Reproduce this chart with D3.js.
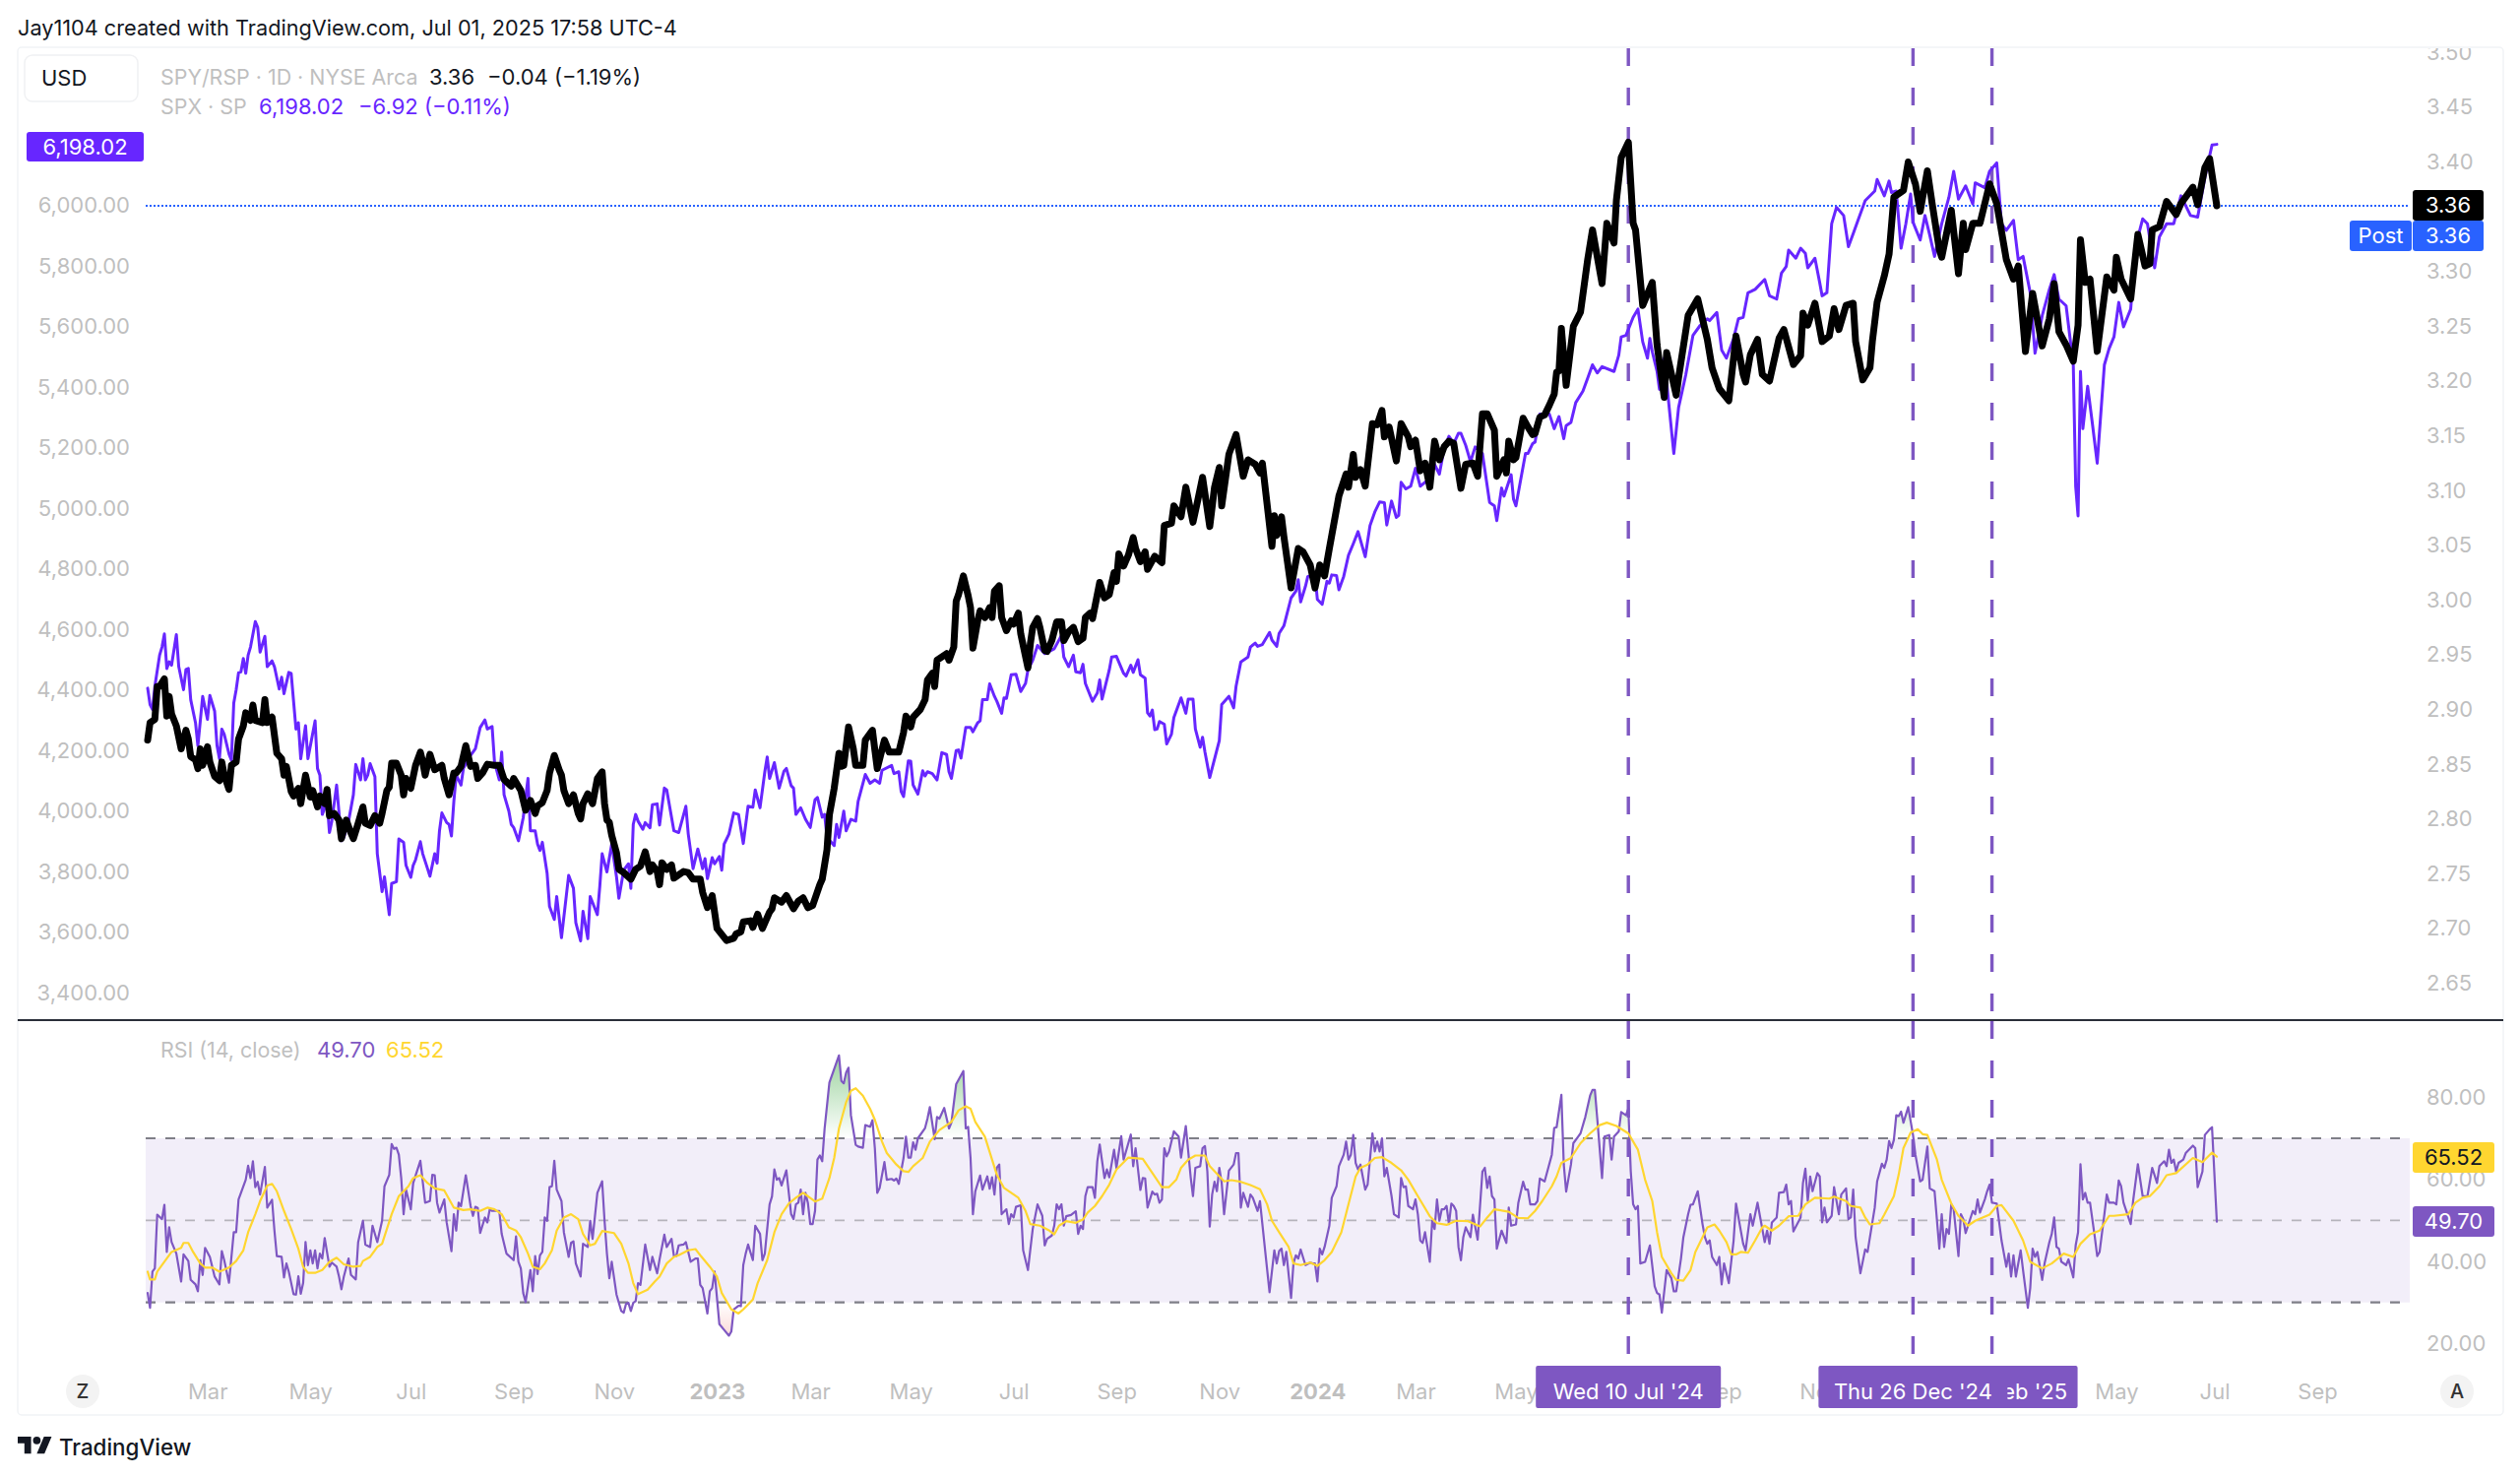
<!DOCTYPE html>
<html>
<head lang="en">
    <meta charset="UTF-8">
    <title>SPY/RSP vs SPX</title>
    <script src="https://d3js.org/d3.v7.min.js" charset="utf-8"></script>
    <style>
        html, body { margin: 0; background: #fff; }
        svg { display: block; font-family: Inter, "Noto Sans", sans-serif; }
        .axis text { fill: #bfbfbf; font-size: 22px; font-family: Inter, "Noto Sans", sans-serif; }
        .axis .domain, .axis line { display: none; }
    </style>
</head>
<body>
<svg id="chart" width="2560" height="1501"></svg>
<script>
// all series are [session, value], session = trading days since late Jan 2022
var spx = [[0,4402],[1,4348],[2,4332],[3,4408],[5,4511],[6,4538],[7,4581],[8,4467],[9,4489],[10,4478],[12,4579],[13,4473],[15,4397],[16,4464],[17,4467],[18,4364],[20,4288],[21,4212],[23,4375],[25,4299],[26,4378],[28,4326],[29,4212],[30,4169],[31,4267],[32,4250],[34,4185],[35,4164],[36,4353],[37,4397],[38,4453],[39,4456],[40,4500],[41,4451],[42,4511],[43,4538],[45,4622],[46,4603],[47,4521],[49,4573],[50,4473],[52,4492],[53,4473],[55,4399],[56,4438],[57,4384],[59,4454],[60,4451],[62,4267],[63,4288],[64,4169],[66,4278],[67,4169],[70,4294],[71,4137],[72,4115],[73,3985],[75,4028],[76,3925],[77,3963],[79,4082],[81,3898],[82,3909],[84,3963],[86,4050],[87,4150],[89,4099],[90,4169],[91,4099],[92,4115],[93,4153],[95,4110],[96,3855],[98,3730],[99,3779],[101,3654],[102,3757],[104,3763],[105,3904],[107,3893],[108,3817],[110,3777],[111,3817],[112,3835],[114,3895],[115,3855],[117,3806],[118,3781],[120,3855],[121,3824],[122,3931],[123,3990],[125,3958],[126,3952],[127,3914],[128,4028],[129,4115],[131,4082],[132,4137],[135,4180],[137,4202],[139,4272],[141,4297],[142,4267],[144,4275],[145,4158],[147,4099],[148,4191],[149,4050],[151,3996],[152,3952],[153,3942],[155,3898],[157,3974],[159,4104],[160,3931],[162,3931],[163,3887],[164,3866],[165,3893],[167,3790],[168,3681],[170,3638],[171,3714],[173,3578],[176,3784],[178,3741],[179,3627],[181,3567],[182,3665],[184,3575],[185,3714],[188,3654],[189,3746],[190,3855],[192,3795],[194,3887],[196,3779],[197,3708],[199,3801],[201,3822],[202,3741],[203,3952],[204,3985],[205,3963],[207,3936],[208,3958],[210,3941],[211,4017],[213,4020],[214,3950],[216,4072],[217,4066],[220,3931],[222,3925],[225,4012],[226,3920],[228,3806],[230,3871],[232,3806],[233,3839],[234,3773],[236,3842],[237,3822],[239,3846],[240,3801],[241,3887],[243,3920],[245,3990],[247,3985],[249,3889],[251,4012],[253,4009],[254,4066],[256,4007],[258,4126],[259,4175],[260,4104],[262,4156],[264,4072],[266,4128],[267,4137],[269,4080],[270,4072],[271,3985],[273,4007],[275,3969],[277,3942],[279,4034],[280,4041],[282,3976],[283,3985],[284,3909],
[287,3882],[288,3952],[289,3909],[291,3996],[292,3931],[294,3969],[296,3963],[297,4028],[300,4117],[302,4088],[304,4099],[306,4088],[307,4131],[311,4147],[312,4120],[314,4126],[315,4061],[316,4044],[318,4162],[319,4161],[320,4082],[322,4052],[324,4129],[325,4112],[326,4126],[328,4120],[330,4099],[332,4189],[334,4183],[335,4126],[336,4104],[338,4196],[339,4198],[340,4171],[342,4272],[344,4272],[345,4258],[347,4288],[348,4294],[349,4364],[351,4364],[352,4416],[354,4375],[355,4359],[357,4319],[358,4370],[359,4368],[361,4446],[363,4448],[365,4391],[367,4418],[368,4462],[370,4494],[372,4543],[375,4516],[379,4532],[382,4576],[383,4505],[385,4473],[387,4511],[388,4456],[390,4453],[391,4481],[392,4418],[395,4359],[397,4386],[398,4429],[399,4366],[402,4462],[403,4505],[405,4507],[408,4451],[409,4442],[411,4478],[412,4454],[414,4496],[415,4446],[417,4435],[418,4321],[419,4310],[420,4330],[421,4265],[422,4267],[423,4292],[425,4283],[426,4218],[428,4250],[429,4305],[432,4370],[434,4319],[435,4366],[437,4366],[438,4267],[440,4207],[441,4240],[442,4191],[444,4107],[448,4229],[449,4348],[452,4375],[454,4337],[455,4408],[457,4489],[460,4505],[461,4538],[463,4551],[464,4540],[466,4546],[469,4586],[470,4561],[472,4540],[473,4583],[475,4608],[478,4700],[480,4722],[481,4760],[482,4687],[484,4738],[485,4771],[488,4776],[489,4695],[491,4679],[493,4755],[494,4749],[495,4776],[497,4774],[498,4727],[500,4771],[502,4841],[504,4879],[506,4919],[509,4836],[511,4939],[513,4984],[515,5017],[517,5015],[518,4941],[520,5020],[522,4966],[523,4973],[524,5082],[526,5060],[528,5069],[530,5128],[532,5069],[535,5088],[537,5156],[540,5109],[542,5194],[544,5234],[546,5210],[548,5244],[549,5244],[551,5204],[553,5150],[555,5199],[558,5177],[560,5069],[561,5015],[563,5004],[564,4955],[566,5063],[567,5036],[570,5107],[571,5026],[572,5004],[574,5091],[576,5177],[577,5177],[579,5210],[580,5215],[582,5307],[586,5307],[588,5259],[590,5299],[592,5226],[593,5269],[595,5280],[597,5345],
[600,5383],[602,5426],[604,5470],[606,5443],[608,5464],[613,5448],[615,5502],[616,5562],[618,5567],[621,5627],[623,5654],[625,5546],[627,5492],[628,5557],[629,5513],[631,5448],[632,5389],[634,5492],[638,5177],[640,5329],[643,5437],[646,5567],[649,5600],[652,5622],[653,5616],[656,5643],[658,5519],[660,5492],[663,5557],[665,5622],[667,5627],[669,5708],[672,5719],[676,5752],[678,5698],[681,5687],[683,5773],[685,5795],[686,5849],[689,5822],[691,5855],[693,5838],[694,5790],[697,5822],[699,5741],[700,5698],[702,5708],[704,5936],[706,5990],[709,5963],[711,5860],[713,5903],[715,5947],[718,6012],[722,6044],[723,6082],[726,6028],[728,6077],[729,6039],[731,6044],[733,5855],[735,5936],[737,6034],[738,5941],[741,5882],[743,5963],[745,5898],[747,5828],[750,5936],[753,6023],[755,6109],[757,6017],[760,6061],[763,6001],[764,6071],[768,6055],[770,6109],[773,6137],[775,5936],[777,5914],[780,5947],[782,5817],[784,5828],[787,5708],[789,5508],[791,5589],[792,5632],[795,5719],[797,5768],[799,5687],[802,5665],[805,5470],[806,5069],[807,4971],[808,5448],[809,5259],[811,5399],[813,5275],[815,5145],[818,5470],[820,5524],[822,5562],[824,5676],[826,5595],[829,5654],[831,5860],[834,5952],[836,5936],[839,5790],[841,5893],[844,5936],[847,5936],[850,6028],[854,5963],[857,5958],[860,6088],[863,6196],[865,6198]];

var spyRsp = [[0,2.872],[1,2.888],[3,2.891],[4,2.921],[5,2.921],[7,2.928],[8,2.894],[9,2.912],[10,2.896],[12,2.885],[14,2.864],[16,2.881],[17,2.873],[18,2.857],[20,2.854],[21,2.846],[22,2.864],[23,2.849],[25,2.866],[26,2.852],[28,2.839],[30,2.835],[31,2.852],[32,2.840],[34,2.827],[35,2.849],[37,2.852],[38,2.873],[40,2.885],[41,2.897],[43,2.890],[44,2.904],[45,2.890],[48,2.888],[49,2.909],[50,2.888],[52,2.893],[54,2.860],[56,2.855],[57,2.840],[58,2.848],[60,2.825],[61,2.821],[63,2.828],[64,2.814],[66,2.840],[68,2.820],[69,2.826],[71,2.811],[72,2.821],[74,2.814],[75,2.827],[76,2.803],[78,2.805],[80,2.799],[81,2.782],[83,2.799],[85,2.787],[86,2.782],[88,2.796],[90,2.811],[91,2.796],[93,2.794],[95,2.803],[97,2.796],[98,2.805],[100,2.826],[101,2.829],[102,2.851],[104,2.851],[106,2.840],[107,2.822],[108,2.837],[110,2.828],[112,2.849],[114,2.861],[115,2.852],[116,2.840],[118,2.859],[120,2.845],[123,2.849],[124,2.837],[126,2.822],[128,2.842],[129,2.842],[131,2.848],[133,2.867],[135,2.848],[137,2.849],[138,2.837],[140,2.842],[142,2.850],[145,2.849],[147,2.849],[149,2.836],[152,2.830],[153,2.837],[156,2.826],[158,2.808],[160,2.817],[162,2.805],[163,2.812],[165,2.815],[167,2.826],[168,2.842],[170,2.858],[172,2.845],[173,2.840],[174,2.826],[176,2.814],[178,2.822],[180,2.805],[181,2.800],[182,2.814],[184,2.823],[186,2.814],[188,2.837],[190,2.843],[191,2.814],[192,2.799],[193,2.797],[194,2.785],[196,2.769],[197,2.754],[199,2.751],[202,2.745],[204,2.754],[206,2.757],[208,2.770],[210,2.752],[211,2.758],[213,2.752],[214,2.740],[215,2.760],[217,2.754],[219,2.758],[220,2.746],[224,2.752],[226,2.751],[228,2.745],[231,2.745],[232,2.733],[234,2.719],[236,2.730],[238,2.700],[242,2.689],[245,2.691],[246,2.695],[248,2.697],[249,2.706],[252,2.707],[253,2.701],[255,2.713],[257,2.700],[260,2.715],[261,2.718],[262,2.728],[265,2.724],[267,2.730],[270,2.718],[272,2.725],[274,2.728],[276,2.719],[278,2.721],[281,2.740],[282,2.745],[284,2.772],
[285,2.804],[287,2.828],[289,2.860],[290,2.848],[291,2.849],[293,2.884],[295,2.864],[296,2.849],[299,2.849],[300,2.872],[303,2.881],[304,2.863],[305,2.846],[308,2.872],[310,2.861],[314,2.861],[316,2.879],[317,2.894],[319,2.884],[320,2.893],[323,2.900],[325,2.909],[326,2.927],[328,2.933],[329,2.921],[330,2.945],[334,2.951],[335,2.945],[337,2.957],[338,2.999],[339,3.005],[341,3.022],[343,3.004],[344,2.993],[345,2.956],[347,2.981],[348,2.990],[350,2.984],[352,2.993],[353,2.984],[354,3.008],[356,3.013],[357,2.984],[359,2.972],[361,2.981],[362,2.978],[364,2.988],[365,2.969],[368,2.938],[369,2.960],[370,2.975],[372,2.983],[373,2.975],[375,2.954],[376,2.953],[378,2.963],[380,2.980],[382,2.980],[383,2.963],[385,2.971],[387,2.975],[389,2.962],[391,2.965],[392,2.984],[394,2.988],[395,2.983],[398,3.016],[400,3.002],[402,3.005],[404,3.025],[405,3.017],[406,3.042],[408,3.031],[410,3.041],[412,3.057],[413,3.047],[415,3.035],[417,3.044],[418,3.028],[421,3.040],[424,3.034],[425,3.068],[428,3.070],[429,3.086],[432,3.076],[434,3.103],[437,3.071],[439,3.091],[441,3.112],[444,3.067],[446,3.103],[448,3.121],[449,3.086],[452,3.133],[455,3.151],[458,3.113],[460,3.128],[463,3.124],[465,3.116],[466,3.125],[470,3.049],[471,3.077],[472,3.059],[474,3.076],[475,3.058],[478,3.011],[481,3.047],[483,3.044],[486,3.032],[488,3.011],[490,3.032],[492,3.022],[494,3.047],[498,3.095],[501,3.115],[502,3.103],[504,3.133],[505,3.112],[507,3.119],[509,3.104],[512,3.161],[514,3.160],[516,3.173],[517,3.149],[519,3.158],[522,3.127],[524,3.161],[527,3.149],[528,3.140],[530,3.146],[532,3.118],[534,3.125],[536,3.103],[538,3.145],[540,3.128],[542,3.140],[544,3.145],[546,3.143],[549,3.102],[551,3.124],[554,3.125],[556,3.113],[558,3.170],[560,3.170],[563,3.155],[564,3.113],[567,3.128],[568,3.116],[569,3.145],[571,3.128],[572,3.130],[575,3.166],[577,3.158],[579,3.151],[580,3.152],[582,3.167],[584,3.169],[586,3.178],[588,3.188],[589,3.208],
[590,3.209],[591,3.248],[593,3.196],[596,3.250],[599,3.263],[602,3.311],[604,3.338],[608,3.289],[610,3.344],[613,3.326],[614,3.365],[616,3.404],[619,3.418],[621,3.344],[622,3.338],[625,3.269],[629,3.290],[631,3.233],[634,3.185],[635,3.226],[639,3.187],[640,3.203],[644,3.260],[648,3.275],[652,3.238],[654,3.212],[657,3.193],[661,3.182],[664,3.241],[667,3.206],[668,3.199],[670,3.224],[673,3.238],[675,3.206],[678,3.200],[682,3.239],[684,3.247],[688,3.215],[691,3.223],[692,3.262],[694,3.251],[697,3.271],[700,3.236],[703,3.241],[705,3.266],[707,3.247],[710,3.269],[713,3.271],[714,3.236],[717,3.201],[720,3.212],[721,3.236],[723,3.272],[726,3.296],[728,3.316],[730,3.368],[734,3.374],[736,3.400],[739,3.380],[741,3.355],[744,3.392],[746,3.362],[749,3.320],[750,3.313],[754,3.356],[757,3.298],[759,3.344],[760,3.320],[763,3.344],[766,3.344],[770,3.380],[773,3.362],[777,3.311],[780,3.293],[782,3.305],[785,3.227],[788,3.280],[792,3.232],[795,3.257],[797,3.289],[799,3.245],[802,3.233],[805,3.218],[807,3.251],[808,3.329],[810,3.290],[812,3.293],[815,3.227],[819,3.295],[822,3.283],[823,3.313],[825,3.293],[829,3.275],[832,3.334],[835,3.305],[837,3.307],[838,3.338],[841,3.341],[844,3.364],[848,3.352],[850,3.362],[855,3.377],[857,3.361],[860,3.395],[862,3.403],[865,3.36]];

var rsi = [[0,32.3],[1,28.7],[2,37.5],[3,38.3],[4,51.4],[6,50.3],[7,53.8],[8,42.3],[9,48.3],[10,44.7],[12,41.9],[14,35.1],[15,41.7],[17,40.1],[18,35.5],[20,34.4],[21,32.7],[22,40.3],[23,36.7],[24,43.3],[26,41.1],[28,36.3],[30,34.4],[31,42.5],[32,40.3],[34,34.8],[36,47.1],[37,47.1],[38,55.1],[41,59.9],[42,63.3],[43,60.3],[44,64.4],[45,58.1],[46,59.4],[47,56.3],[49,63.0],[50,53.1],[52,55.0],[53,47.5],[54,41.3],[56,41.1],[57,36.1],[58,39.5],[59,37.5],[61,32.0],[62,31.9],[63,36.4],[64,32.1],[65,34.7],[66,44.7],[67,39.1],[68,42.7],[69,39.5],[70,42.7],[71,38.3],[72,41.9],[73,40.7],[74,45.7],[76,38.7],[77,39.7],[79,38.7],[80,36.3],[81,33.2],[82,36.3],[84,40.7],[85,36.7],[87,35.6],[88,44.7],[90,49.9],[91,44.1],[93,43.5],[94,48.7],[96,44.7],[98,49.9],[99,58.3],[101,61.1],[102,68.6],[103,67.4],[104,67.7],[105,66.0],[106,60.3],[107,51.5],[108,57.5],[110,52.7],[111,59.1],[114,64.5],[116,54.3],[118,54.7],[119,61.1],[120,61.0],[121,54.3],[122,51.9],[124,55.1],[125,49.5],[127,42.5],[128,51.5],[129,47.5],[130,54.3],[131,53.5],[133,61.0],[135,53.5],[136,51.1],[137,53.3],[138,53.0],[139,46.9],[141,50.7],[142,49.5],[143,52.7],[144,52.3],[147,52.3],[148,46.7],[150,41.9],[153,40.3],[154,46.1],[155,39.9],[156,38.3],[157,32.3],[158,30.1],[160,37.9],[161,32.7],[162,41.3],[163,36.9],[164,41.5],[165,42.3],[166,50.7],[167,49.9],[168,58.1],[169,58.3],[170,64.5],[171,57.5],[173,54.7],[174,47.1],[176,41.1],[177,44.5],[178,44.9],[179,39.5],[181,36.3],[182,44.3],[184,43.5],[185,49.9],[186,45.5],[188,56.7],[190,59.5],[191,49.9],[192,41.9],[193,35.9],[194,39.9],[196,31.9],[198,27.9],[199,27.5],[200,29.7],[201,29.9],[202,27.9],[203,29.9],[204,30.3],[205,34.7],[206,34.3],[208,44.1],[210,37.9],[211,41.1],[213,37.1],[214,40.5],
[216,46.5],[217,43.5],[219,45.5],[220,41.3],[221,41.3],[222,43.9],[224,44.1],[225,44.7],[227,39.9],[229,40.7],[230,40.7],[231,34.3],[232,33.5],[234,27.3],[235,32.7],[236,33.5],[237,37.5],[239,24.7],[241,23.3],[243,21.9],[244,22.9],[245,28.3],[247,29.2],[248,29.1],[249,39.1],[250,41.9],[251,44.1],[253,40.3],[254,48.7],[256,46.7],[257,40.3],[258,41.9],[260,53.9],[261,55.8],[262,62.4],[263,59.9],[264,60.3],[265,58.5],[267,62.2],[269,51.5],[270,50.3],[271,53.9],[272,54.3],[273,57.5],[274,51.5],[275,56.7],[276,54.3],[277,49.1],[278,49.1],[279,52.3],[280,64.8],[281,65.8],[282,64.4],[283,72.4],[285,83.6],[289,90.2],[290,84.0],[291,83.4],[292,86.0],[293,87.2],[294,75.6],[296,68.4],[297,68.0],[299,67.7],[300,73.2],[302,72.8],[303,74.4],[304,67.6],[305,56.7],[306,57.9],[308,64.2],[309,59.9],[311,60.1],[312,59.7],[313,60.2],[314,58.9],[316,65.2],[317,70.4],[318,65.3],[319,65.3],[320,69.0],[321,67.2],[322,70.0],[325,72.5],[326,74.8],[327,77.6],[329,69.8],[330,75.2],[331,74.8],[333,77.4],[335,72.4],[336,73.8],[338,83.2],[341,86.4],[342,72.4],[343,72.8],[344,65.2],[345,51.5],[346,57.1],[348,60.9],[349,57.5],[351,60.7],[352,57.7],[353,60.5],[354,56.3],[355,62.8],[356,63.6],[357,51.5],[359,52.7],[360,49.1],[361,51.5],[362,50.7],[363,53.3],[365,53.7],[366,42.7],[368,37.9],[370,47.9],[372,53.9],[374,51.1],[375,43.9],[376,45.5],[378,46.3],[379,48.7],[380,53.9],[381,52.7],[382,53.9],[383,48.7],[384,51.0],[386,51.3],[388,52.2],[389,46.7],[390,48.7],[391,47.9],[392,55.9],[393,58.1],[395,58.1],[396,55.5],[397,64.4],[398,68.5],[400,60.3],[401,62.4],[402,60.5],[404,67.2],[405,62.8],[407,70.5],[408,64.8],[411,70.9],[412,63.2],[413,67.6],[415,57.4],[416,60.3],[417,60.2],[418,53.1],[420,57.0],[421,56.3],[422,56.5],[423,54.3],[424,55.1],[425,67.6],[426,65.6],[427,66.8],[429,71.7],[431,70.4],[432,65.3],
[434,73.0],[436,60.7],[437,55.9],[438,62.8],[440,63.2],[441,67.6],[442,68.1],[443,61.9],[444,48.5],[445,56.3],[446,59.4],[447,57.1],[448,62.8],[449,59.1],[450,51.5],[452,62.1],[454,63.6],[455,66.4],[456,66.4],[457,53.1],[458,56.7],[460,53.3],[461,56.3],[462,55.5],[464,52.3],[465,54.7],[467,43.5],[469,32.5],[471,42.7],[472,39.5],[473,42.5],[474,43.1],[475,39.1],[476,42.3],[478,31.1],[479,39.5],[480,41.5],[481,40.7],[482,42.9],[484,39.1],[486,39.7],[487,39.5],[488,39.5],[489,35.1],[490,43.1],[491,41.7],[492,43.5],[494,48.7],[495,55.5],[497,58.3],[498,63.2],[500,66.0],[501,69.2],[502,64.8],[503,66.0],[504,70.8],[505,64.0],[506,62.4],[507,63.6],[509,57.5],[510,58.7],[512,71.2],[513,66.8],[514,69.2],[515,66.8],[516,70.0],[517,60.7],[518,62.8],[520,55.9],[521,51.5],[523,50.7],[524,60.3],[525,58.1],[526,58.3],[527,53.5],[529,52.7],[530,55.1],[531,51.5],[532,45.1],[533,44.5],[534,47.1],[536,39.9],[537,49.9],[538,47.9],[539,55.1],[540,49.9],[541,52.7],[542,52.7],[543,53.5],[544,49.1],[545,54.1],[546,53.5],[547,52.3],[548,43.5],[549,40.3],[550,45.9],[551,48.3],[553,45.9],[554,51.4],[556,45.3],[558,61.9],[559,62.8],[560,57.9],[561,60.7],[562,55.9],[563,55.1],[564,43.1],[566,47.5],[568,44.5],[569,53.1],[570,48.7],[572,49.0],[573,54.3],[575,59.4],[576,57.5],[577,57.5],[578,53.9],[580,53.9],[581,54.7],[582,60.2],[584,59.5],[587,66.0],[588,72.5],[589,72.7],[591,80.6],[592,63.6],[593,57.0],[595,63.6],[596,68.8],[598,70.4],[599,71.2],[601,75.2],[603,80.4],[604,81.8],[605,81.8],[606,74.8],[608,60.3],[609,70.4],[611,70.8],[612,64.8],[613,70.4],[615,71.7],[616,76.4],[618,75.6],[619,77.2],[620,62.0],[621,53.9],[622,52.7],[623,53.5],[624,39.5],[626,39.9],[628,43.9],[630,33.9],[631,32.3],[632,31.9],[633,27.5],[635,37.9],[637,35.9],[638,32.7],[639,32.7],[641,40.7],[642,45.9],[644,51.5],[645,53.8],[646,53.9],[648,57.1],[650,49.1],
[651,45.9],[652,44.3],[653,45.1],[654,41.1],[656,39.1],[657,41.1],[658,34.4],[659,39.5],[661,34.7],[663,45.1],[664,54.1],[666,47.5],[667,44.3],[668,42.7],[670,51.5],[671,48.7],[673,54.3],[676,44.7],[677,47.5],[678,44.3],[679,49.5],[681,50.7],[682,56.7],[684,56.9],[685,58.7],[686,53.9],[687,54.7],[688,47.3],[691,50.7],[692,59.1],[693,62.6],[694,54.7],[695,60.7],[696,57.1],[698,61.5],[699,60.7],[700,49.5],[701,53.1],[702,49.5],[704,51.1],[705,58.1],[707,51.5],[708,56.3],[710,57.8],[711,50.3],[712,50.7],[713,57.5],[714,45.9],[716,37.1],[718,42.9],[719,42.3],[722,53.1],[723,59.5],[725,63.8],[726,62.8],[727,64.8],[728,69.3],[729,67.6],[730,69.6],[731,75.6],[732,75.4],[733,76.5],[734,73.8],[736,77.6],[738,70.8],[739,66.0],[741,59.5],[742,59.9],[744,68.0],[745,57.8],[747,57.1],[749,43.1],[750,51.5],[751,43.5],[752,47.9],[753,46.7],[754,53.9],[755,52.7],[757,41.3],[758,51.5],[759,50.3],[760,46.9],[761,48.7],[763,52.3],[764,51.5],[765,55.1],[766,51.9],[768,55.1],[769,57.1],[770,58.7],[771,54.3],[773,54.1],[775,45.1],[777,38.7],[778,41.9],[779,36.3],[780,41.5],[781,36.3],[783,42.7],[784,37.9],[786,28.7],[787,33.5],[788,43.1],[789,41.1],[790,42.3],[792,35.5],[793,39.5],[795,44.7],[796,46.7],[797,50.7],[798,43.5],[799,43.1],[800,39.9],[802,39.1],[803,40.5],[804,38.3],[805,36.1],[806,43.9],[807,47.1],[808,63.7],[809,55.1],[810,56.7],[811,54.3],[812,54.3],[814,45.9],[815,41.3],[816,42.3],[818,51.5],[819,56.3],[820,54.3],[822,54.3],[823,53.9],[824,59.7],[825,58.3],[826,54.3],[829,49.1],[830,54.7],[832,63.7],[834,55.9],[836,55.9],[838,62.8],[840,59.1],[841,63.2],[843,64.4],[844,63.2],[845,67.2],[846,64.0],[847,64.8],[848,61.9],[849,64.0],[851,64.8],[852,66.4],[854,67.6],[855,68.2],[856,67.6],[857,58.1],[859,61.9],[860,70.8],[862,72.2],[863,72.7],[865,49.7]];

var rsiMa = [[0,37.5],[1,35.6],[3,35.6],[4,37.5],[7,39.9],[10,42.3],[14,43.3],[15,44.5],[17,44.5],[19,42.3],[22,39.5],[24,38.5],[27,38.5],[30,37.5],[34,38.5],[37,40.1],[40,42.7],[42,47.1],[45,51.5],[47,54.7],[50,58.5],[52,58.9],[54,57.1],[57,52.3],[60,47.9],[63,43.1],[65,38.7],[67,37.2],[70,37.2],[73,37.9],[76,39.9],[79,40.9],[82,39.3],[86,38.7],[89,38.9],[90,40.1],[93,41.1],[96,43.5],[98,44.3],[102,51.5],[105,55.9],[109,58.3],[111,60.3],[114,61.0],[117,59.1],[120,57.8],[124,57.3],[128,53.1],[132,52.5],[135,52.7],[139,52.3],[142,53.1],[145,52.7],[148,51.5],[151,48.3],[154,47.5],[156,45.9],[159,41.9],[161,38.7],[164,38.1],[166,39.5],[169,42.7],[171,47.5],[174,50.7],[177,51.5],[180,50.3],[182,46.7],[185,43.9],[187,44.3],[190,47.4],[195,46.9],[198,44.3],[201,39.5],[203,34.7],[205,32.0],[209,33.1],[212,35.1],[214,36.3],
[217,39.5],[220,41.1],[222,41.5],[226,42.7],[229,43.0],[231,41.5],[235,38.7],[238,36.3],[240,32.3],[244,28.3],[247,27.3],[249,28.3],[253,30.7],[255,34.7],[259,40.3],[262,47.1],[265,51.5],[268,54.1],[271,55.5],[274,56.7],[276,55.9],[279,54.6],[282,55.3],[285,60.3],[287,65.2],[289,72.4],[292,78.8],[294,81.6],[296,82.2],[299,80.4],[302,77.2],[304,74.5],[307,69.2],[309,66.4],[313,63.6],[316,62.0],[318,61.8],[320,63.2],[324,65.2],[327,69.2],[331,72.0],[336,74.0],[339,76.8],[342,77.8],[344,77.2],[346,74.0],[350,70.4],[353,64.8],[355,61.1],[358,57.9],[364,55.5],[367,52.3],[369,49.1],[373,48.7],[377,47.5],[379,46.6],[381,48.7],[384,49.8],[388,49.4],[391,50.2],[393,51.9],[396,53.5],[399,55.9],[402,58.7],[405,62.4],[410,65.3],[416,65.0],[419,62.4],[424,58.1],[427,58.1],[430,59.9],[432,62.8],
[435,64.8],[438,65.8],[442,65.8],[444,63.2],[450,59.5],[453,59.8],[457,59.4],[461,58.6],[465,57.6],[468,53.9],[470,49.9],[473,47.1],[477,43.5],[479,39.5],[482,39.1],[486,39.7],[489,38.9],[492,40.3],[495,42.3],[499,47.1],[502,53.9],[505,60.7],[507,62.8],[510,63.6],[513,65.2],[516,65.4],[520,64.0],[524,62.2],[527,59.9],[531,55.9],[536,51.0],[539,49.3],[543,48.9],[547,49.9],[552,49.8],[557,48.5],[560,50.7],[563,52.7],[569,52.1],[573,50.6],[577,50.5],[580,52.3],[583,54.7],[587,58.3],[589,60.7],[591,64.0],[595,65.2],[599,68.8],[603,71.2],[607,73.2],[610,73.8],[614,73.0],[619,71.2],[623,67.2],[626,59.9],[629,54.7],[631,47.1],[633,41.1],[637,37.1],[639,35.5],[642,35.3],[645,37.9],[647,42.3],[650,45.9],
[652,48.3],[655,49.0],[657,47.5],[660,44.7],[662,41.7],[664,41.7],[666,42.3],[669,42.1],[672,45.1],[675,48.3],[676,48.7],[679,47.5],[682,48.7],[686,51.0],[690,51.1],[693,53.9],[697,55.5],[703,55.3],[705,55.8],[710,54.7],[712,53.5],[716,53.1],[718,50.7],[720,49.0],[724,49.3],[726,51.4],[730,55.9],[732,61.1],[734,67.6],[737,71.4],[740,72.2],[742,71.0],[744,70.8],[748,64.8],[750,59.9],[754,54.1],[757,51.1],[761,48.7],[764,49.9],[770,51.4],[773,53.5],[775,53.7],[780,49.9],[784,45.1],[787,39.9],[792,38.3],[796,39.5],[801,41.9],[805,41.1],[808,44.3],[812,46.6],[816,47.5],[820,51.1],[822,51.1],[828,51.5],[831,54.3],[834,55.5],[837,55.9],[841,58.3],[844,61.0],[848,61.5],[855,65.2],[859,64.2],[863,66.5],[865,65.52]];

var spxTicks = [6000,5800,5600,5400,5200,5000,4800,4600,4400,4200,4000,3800,3600,3400];
var ratioTicks = [3.50,3.45,3.40,3.30,3.25,3.20,3.15,3.10,3.05,3.00,2.95,2.90,2.85,2.80,2.75,2.70,2.65];
var rsiTicks = [80,60,40,20];
var rsiLevels = [70,50,30];
var timeTicks = [25,68,110,153,195,238,277,319,362,405,448,489,530,572,658,699,823,864,907];
var timeLabels = ["Mar","May","Jul","Sep","Nov","2023","Mar","May","Jul","Sep","Nov","2024","Mar","May","Sep","Nov","May","Jul","Sep"];
// crosshair markers, drawn back to front
var markerSessions = [771,738,619];
var markerLabels = ["Thu 13 Feb '25","Thu 26 Dec '24","Wed 10 Jul '24"];
var markerHalfWidths = [87,96,94];

var PURPLE = "#6726ff", RSI_PURPLE = "#7e57c2", YELLOW = "#ffd630", BLUE = "#2962ff", GREY = "#bfbfbf";

var svg = d3.select("#chart");
var defs = svg.append("defs");

var x = d3.scaleLinear().domain([0,865]).range([150,2252]);
var ySpx = d3.scaleLinear().domain([6000,3400]).range([207.5,1007]);
var yRatio = d3.scaleLinear().domain([3.36,2.65]).range([209,998.5]);
var yRsi = d3.scaleLinear().domain([70,30]).range([1156,1322.7]);

// frame
svg.append("rect").attr("x",18).attr("y",48).attr("width",2525).attr("height",1389).attr("rx",4)
    .attr("fill","#fff").attr("stroke","#f1f3f6").attr("stroke-width",1.5);

function label(t, px, py, opts) {
    opts = opts || {};
    return svg.append("text").attr("x",px).attr("y",py).attr("dy",".36em")
        .attr("text-anchor",opts.anchor || "start")
        .attr("font-size",opts.size || 22)
        .attr("font-weight",opts.weight || 400)
        .attr("fill",opts.fill || "#131722")
        .text(t);
}

label("Jay1104 created with TradingView.com, Jul 01, 2025 17:58 UTC-4", 18, 28, {size:21.7});

// USD button + legends
svg.append("rect").attr("x",25).attr("y",56).attr("width",115).attr("height",47).attr("rx",8)
    .attr("fill","#fff").attr("stroke","#f0f1f3").attr("stroke-width",1.5);
label("USD", 42, 79);
label("SPY/RSP · 1D · NYSE Arca", 163, 78, {fill:GREY, size:21.4});
label("3.36", 436, 78);
label("−0.04 (−1.19%)", 495, 78);
label("SPX · SP", 163, 108, {fill:GREY, size:21.4});
label("6,198.02", 263, 108, {fill:PURPLE});
label("−6.92 (−0.11%)", 364, 108, {fill:PURPLE});

// axes
svg.append("g").attr("class","axis").attr("transform","translate(132,1)")
    .call(d3.axisLeft(ySpx).tickValues(spxTicks).tickSize(0).tickPadding(0).tickFormat(d3.format(",.2f")));

defs.append("clipPath").attr("id","paneClip").append("rect").attr("x",18).attr("y",49).attr("width",2525).attr("height",985);
svg.append("g").attr("class","axis").attr("clip-path","url(#paneClip)")
    .append("g").attr("transform","translate(2465,0)")
    .call(d3.axisRight(yRatio).tickValues(ratioTicks).tickSize(0).tickPadding(0).tickFormat(d3.format(".2f")));

svg.append("g").attr("class","axis").attr("transform","translate(2465,0)")
    .call(d3.axisRight(yRsi).tickValues(rsiTicks).tickSize(0).tickPadding(0).tickFormat(d3.format(".2f")));

var xAxis = svg.append("g").attr("class","axis").attr("transform","translate(0,1405)")
    .call(d3.axisBottom(x).tickValues(timeTicks).tickSize(0).tickPadding(0)
        .tickFormat(function(d,i){ return timeLabels[i]; }));
xAxis.selectAll("text").style("font-weight",function(d,i){ return /^20/.test(timeLabels[i]) ? 700 : 400; });

// last price dotted line
svg.append("line").attr("x1",148).attr("x2",2448).attr("y1",yRatio(3.36)).attr("y2",yRatio(3.36))
    .attr("stroke",BLUE).attr("stroke-width",2).attr("stroke-dasharray","2 2");

// rsi band and levels
svg.append("rect").attr("x",148).attr("width",2300).attr("y",yRsi(70)).attr("height",yRsi(30)-yRsi(70))
    .attr("fill",RSI_PURPLE).attr("fill-opacity",0.1);

var overGrad = defs.append("linearGradient").attr("id","overGrad").attr("gradientUnits","userSpaceOnUse")
    .attr("x1",0).attr("x2",0).attr("y1",yRsi(90)).attr("y2",yRsi(70));
overGrad.append("stop").attr("offset","0%").attr("stop-color","#4caf50").attr("stop-opacity",0.55);
overGrad.append("stop").attr("offset","100%").attr("stop-color","#4caf50").attr("stop-opacity",0);
var underGrad = defs.append("linearGradient").attr("id","underGrad").attr("gradientUnits","userSpaceOnUse")
    .attr("x1",0).attr("x2",0).attr("y1",yRsi(30)).attr("y2",yRsi(20));
underGrad.append("stop").attr("offset","0%").attr("stop-color","#f0695f").attr("stop-opacity",0);
underGrad.append("stop").attr("offset","100%").attr("stop-color","#f0695f").attr("stop-opacity",0.3);

defs.append("clipPath").attr("id","overClip").append("rect").attr("x",148).attr("width",2300).attr("y",yRsi(100)).attr("height",yRsi(70)-yRsi(100));
defs.append("clipPath").attr("id","underClip").append("rect").attr("x",148).attr("width",2300).attr("y",yRsi(30)).attr("height",yRsi(0)-yRsi(30));

function rsiArea(level) {
    return d3.area().x(function(d){ return x(d[0]); }).y0(yRsi(level)).y1(function(d){ return yRsi(d[1]); });
}
svg.append("path").datum(rsi).attr("d",rsiArea(70)).attr("fill","url(#overGrad)").attr("clip-path","url(#overClip)");
svg.append("path").datum(rsi).attr("d",rsiArea(30)).attr("fill","url(#underGrad)").attr("clip-path","url(#underClip)");

svg.selectAll(".level").data(rsiLevels).enter().append("line").attr("class","level")
    .attr("x1",148).attr("x2",2448)
    .attr("y1",function(d){ return yRsi(d); }).attr("y2",function(d){ return yRsi(d); })
    .attr("stroke",function(d){ return d === 50 ? "#b6b4bc" : "#7f7f88"; })
    .attr("stroke-width",function(d){ return d === 50 ? 1.6 : 2.2; })
    .attr("stroke-dasharray","10 10");

// vertical markers, one run for each pane
var paneRuns = [[49,1034],[1037,1376]];
paneRuns.forEach(function(run){
    svg.selectAll(null).data(markerSessions).enter().append("line")
        .attr("x1",function(d){ return x(d); }).attr("x2",function(d){ return x(d); })
        .attr("y1",run[0]).attr("y2",run[1])
        .attr("stroke",RSI_PURPLE).attr("stroke-width",3.4).attr("stroke-dasharray","18 22");
});

// series
var line = d3.line().x(function(d){ return x(d[0]); });
function drawLine(data, yScale, color, width) {
    svg.append("path").datum(data).attr("fill","none").attr("stroke",color).attr("stroke-width",width)
        .attr("stroke-linejoin","round").attr("stroke-linecap","round")
        .attr("d", line.y(function(d){ return yScale(d[1]); }));
}
drawLine(spx, ySpx, PURPLE, 3);
drawLine(spyRsp, yRatio, "#000", 7);
drawLine(rsi, yRsi, RSI_PURPLE, 2.2);
drawLine(rsiMa, yRsi, YELLOW, 2.2);

// pane divider
svg.append("line").attr("x1",18).attr("x2",2543).attr("y1",1036).attr("y2",1036).attr("stroke","#2a2e39").attr("stroke-width",2);

label("RSI (14, close)", 163, 1066, {fill:GREY, size:21.4});
label("49.70", 322, 1066, {fill:RSI_PURPLE});
label("65.52", 392, 1066, {fill:YELLOW});

// price tags
function tag(t, px, py, w, h, bg, fg) {
    svg.append("rect").attr("x",px).attr("y",py).attr("width",w).attr("height",h).attr("rx",3).attr("fill",bg);
    label(t, px + w/2, py + h/2, {anchor:"middle", fill:fg});
}
tag("6,198.02", 27, 134, 119, 30, PURPLE, "#fff");
tag("3.36", 2451, 193, 72, 31, "#000", "#fff");
tag("Post", 2387, 224, 63, 31, BLUE, "#fff");
tag("3.36", 2451, 224, 72, 31, BLUE, "#fff");
tag("65.52", 2451, 1160, 83, 31, YELLOW, "#131722");
tag("49.70", 2451, 1225, 83, 31, RSI_PURPLE, "#fff");

// crosshair date tags
markerSessions.forEach(function(s,i){
    var hw = markerHalfWidths[i];
    svg.append("rect").attr("x",x(s)-hw).attr("y",1387).attr("width",hw*2).attr("height",43).attr("rx",2).attr("fill",RSI_PURPLE);
    label(markerLabels[i], x(s), 1413, {anchor:"middle", fill:"#fff"});
});

// Z and A buttons
[[84,"Z"],[2496,"A"]].forEach(function(b){
    svg.append("circle").attr("cx",b[0]).attr("cy",1413).attr("r",17).attr("fill","#f3f3f3");
    label(b[1], b[0], 1413, {anchor:"middle", size:20, weight:500, fill:"#333"});
});

// logo
var logo = svg.append("g").attr("transform","translate(18,1455) scale(.97)").attr("fill","#131722");
logo.append("path").attr("d","M14 22H7V11H0V4h14v18zM28 22h-8l7.5-18h8L28 22z");
logo.append("circle").attr("cx",20).attr("cy",8).attr("r",4);
label("TradingView", 60, 1470, {size:22.4, weight:500});
</script>
</body>
</html>
